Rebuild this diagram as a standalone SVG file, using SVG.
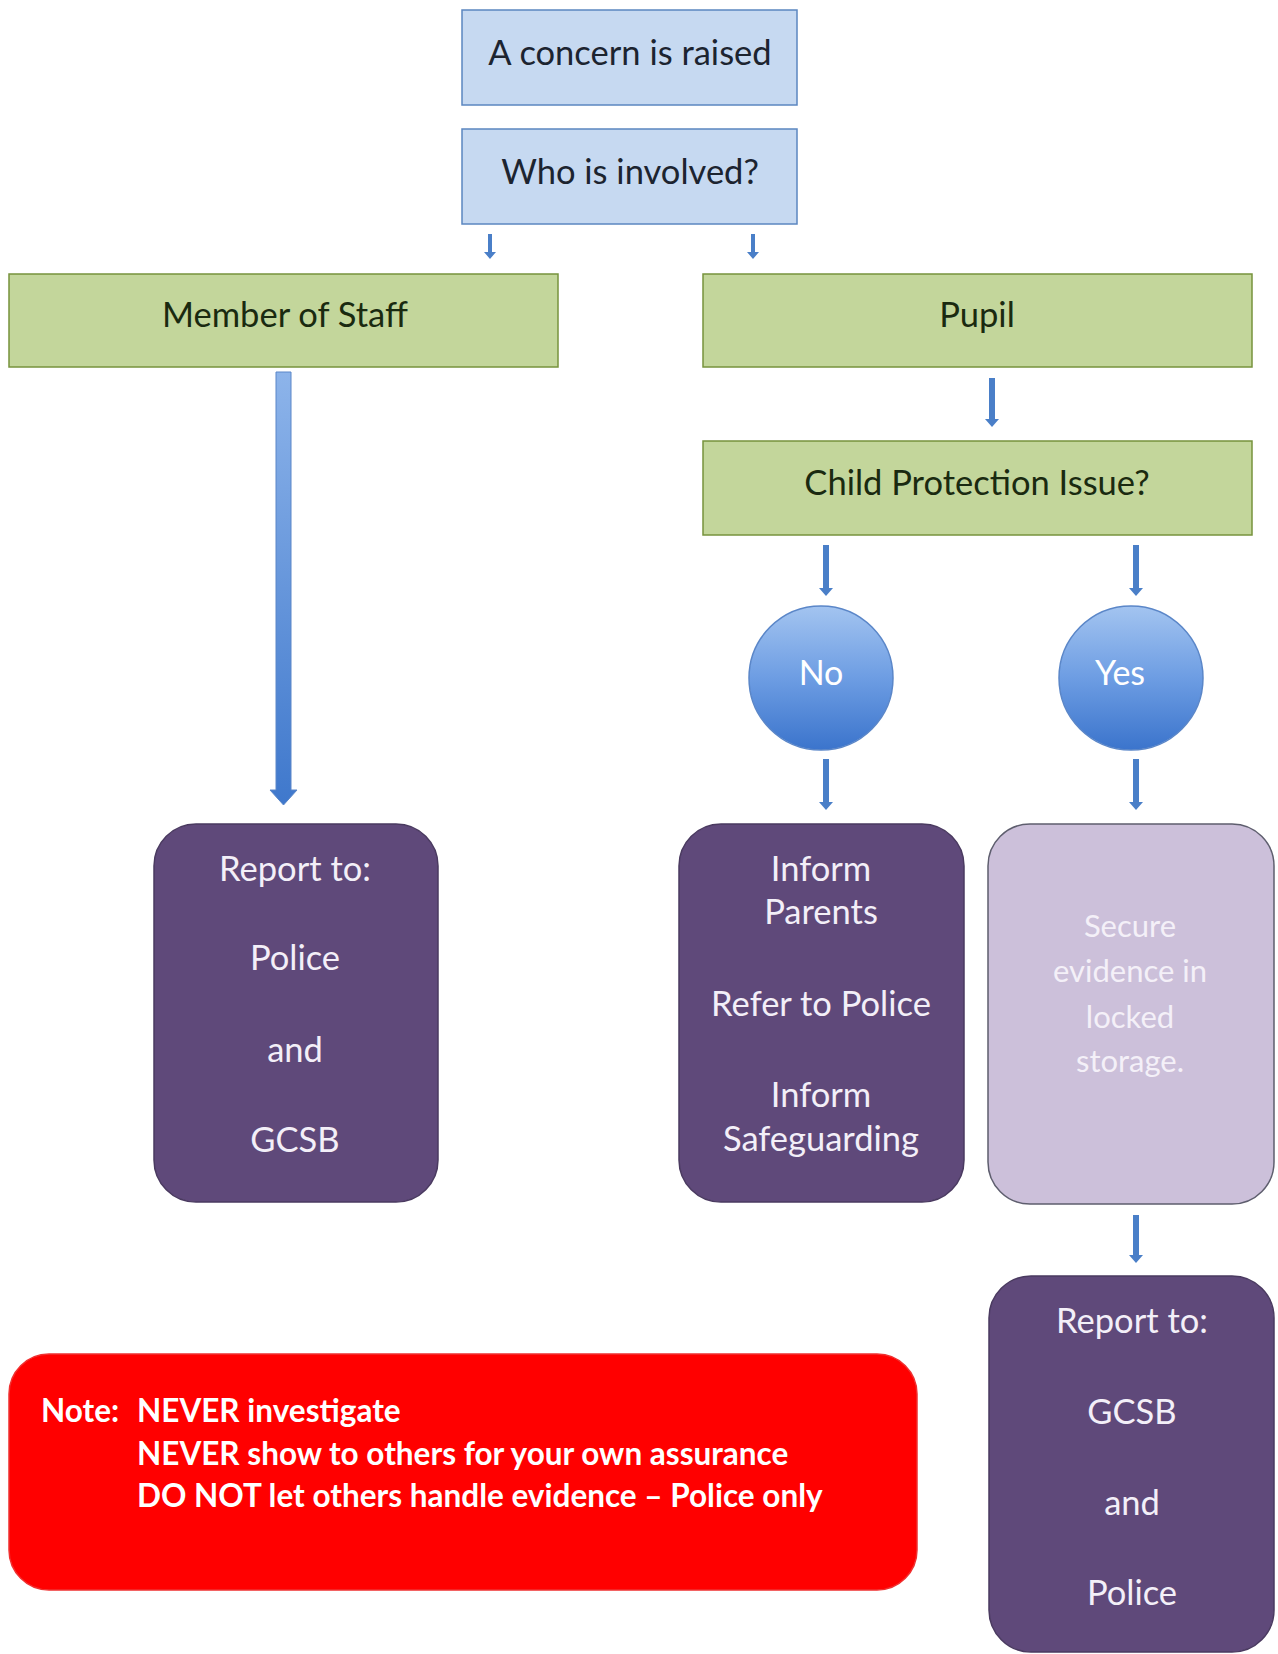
<svg xmlns="http://www.w3.org/2000/svg" width="1278" height="1654" viewBox="0 0 1278 1654">
<defs>
<linearGradient id="circ" x1="0" y1="0" x2="0" y2="1">
<stop offset="0" stop-color="#a3c4f0"/>
<stop offset="0.5" stop-color="#6d9de3"/>
<stop offset="1" stop-color="#3b74cc"/>
</linearGradient>
<linearGradient id="arr" x1="0" y1="0" x2="0" y2="1">
<stop offset="0" stop-color="#8db4ea"/>
<stop offset="1" stop-color="#3f78cc"/>
</linearGradient>
<style>
.blue{fill:#c6d9f1;stroke:#5b86c0;stroke-width:1.5}
.green{fill:#c3d69b;stroke:#77933c;stroke-width:1.5}
.purple{fill:#5f497a;stroke:#4a3a60;stroke-width:1.5}
.lilac{fill:#ccc0da;stroke:#5e5e6e;stroke-width:1.5}
.red{fill:#ff0000;stroke:#f03030;stroke-width:1.5}
.circle{fill:url(#circ);stroke:#5a86c8;stroke-width:1.5}
.sa{fill:#4a7fc8}
text{font-family:Lato,"Open Sans","Liberation Sans",sans-serif;text-anchor:middle}
.dark{fill:#1c2430;font-size:34.5px}
.dg{fill:#1a2a10;font-size:34.5px}
.wt{fill:#f3eff8;font-size:34.5px}
.lt{fill:#f4f0f8;font-size:31px}
.circ{fill:#ffffff;font-size:34px}
.note{fill:#ffffff;font-size:31.5px;font-weight:bold;text-anchor:start}
</style>
</defs>
<rect width="1278" height="1654" fill="#ffffff"/>

<g id="concern">
<rect class="blue" x="462" y="10" width="335" height="95"/>
<text class="dark" x="630" y="65">A concern is raised</text>
</g>
<g id="who">
<rect class="blue" x="462" y="129" width="335" height="95"/>
<text class="dark" x="630" y="184">Who is involved?</text>
</g>
<g id="staff">
<rect class="green" x="9" y="274" width="549" height="93"/>
<text class="dg" x="285" y="327">Member of Staff</text>
</g>
<g id="pupil">
<rect class="green" x="703" y="274" width="549" height="93"/>
<text class="dg" x="977" y="327">Pupil</text>
</g>
<g id="cpi">
<rect class="green" x="703" y="441" width="549" height="94"/>
<text class="dg" x="977" y="495">Child Protection Issue?</text>
</g>
<g id="no">
<circle class="circle" cx="821" cy="678" r="72"/>
<text class="circ" x="821" y="685">No</text>
</g>
<g id="yes">
<circle class="circle" cx="1131" cy="678" r="72"/>
<text class="circ" x="1120" y="685">Yes</text>
</g>
<g id="report-left">
<rect class="purple" x="154" y="824" width="284" height="378" rx="42"/>
<text class="wt" x="295" y="881">Report to:</text>
<text class="wt" x="295" y="970">Police</text>
<text class="wt" x="295" y="1062">and</text>
<text class="wt" x="295" y="1152">GCSB</text>
</g>
<g id="inform">
<rect class="purple" x="679" y="824" width="285" height="378" rx="42"/>
<text class="wt" x="821" y="881">Inform</text>
<text class="wt" x="821" y="924">Parents</text>
<text class="wt" x="821" y="1016">Refer to Police</text>
<text class="wt" x="821" y="1107">Inform</text>
<text class="wt" x="821" y="1151">Safeguarding</text>
</g>
<g id="secure">
<rect class="lilac" x="988" y="824" width="286" height="380" rx="42"/>
<text class="lt" x="1130" y="937">Secure</text>
<text class="lt" x="1130" y="982">evidence in</text>
<text class="lt" x="1130" y="1028">locked</text>
<text class="lt" x="1130" y="1072">storage.</text>
</g>
<g id="report-right">
<rect class="purple" x="989" y="1276" width="285" height="376" rx="42"/>
<text class="wt" x="1132" y="1333">Report to:</text>
<text class="wt" x="1132" y="1424">GCSB</text>
<text class="wt" x="1132" y="1515">and</text>
<text class="wt" x="1132" y="1605">Police</text>
</g>
<g id="note">
<rect class="red" x="9" y="1354" width="908" height="236" rx="40"/>
<text class="note" x="41" y="1422">Note:</text>
<text class="note" x="137" y="1422">NEVER investigate</text>
<text class="note" x="137" y="1465">NEVER show to others for your own assurance</text>
<text class="note" x="137" y="1507">DO NOT let others handle evidence – Police only</text>
</g>

<g id="connectors">
<polygon class="sa" points="488,234 492,234 492,252 496,252 490,259 484,252 488,252"/>
<polygon class="sa" points="751,234 755,234 755,252 759,252 753,259 747,252 751,252"/>
<polygon class="sa" points="989,378 995,378 995,419 999,419 992,427 985,419 989,419"/>
<polygon class="sa" points="823,545 829,545 829,588 833,588 826,596 819,588 823,588"/>
<polygon class="sa" points="1133,545 1139,545 1139,588 1143,588 1136,596 1129,588 1133,588"/>
<polygon class="sa" points="823,759 829,759 829,802 833,802 826,810 819,802 823,802"/>
<polygon class="sa" points="1133,759 1139,759 1139,802 1143,802 1136,810 1129,802 1133,802"/>
<polygon class="sa" points="1133,1215 1139,1215 1139,1255 1143,1255 1136,1263 1129,1255 1133,1255"/>
<polygon fill="url(#arr)" stroke="#5a86c8" stroke-width="1" points="276,372 291,372 291,790 297,790 283.5,805 270,790 276,790"/>
</g>
</svg>
